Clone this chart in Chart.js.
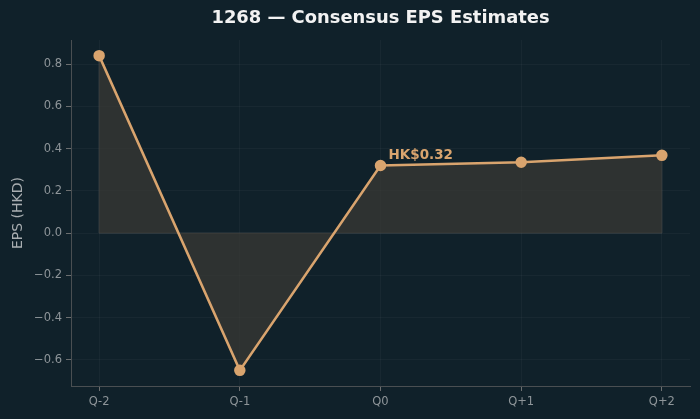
<!DOCTYPE html>
<html>
<head>
<meta charset="utf-8">
<script src="https://cdn.jsdelivr.net/npm/chart.js@4"></script>
<style>
  html, body { margin: 0; padding: 0; background: #10212a; }
  #wrap { width: 700px; height: 419px; }
</style>
</head>
<body>
<div id="wrap"><canvas id="epsChart"></canvas></div>
<script>
const quarters = ['Q-2', 'Q-1', 'Q0', 'Q+1', 'Q+2'];
const epsValues = [0.84, -0.65, 0.32, 0.335, 0.368];
const yTicks = [-0.6, -0.4, -0.2, 0.0, 0.2, 0.4, 0.6, 0.8];
const labelIndex = 2;
const chartTitle = '1268 \u2014 Consensus EPS Estimates';

const lineColor = '#d9a46e';
const fmt = v => v.toFixed(1).replace('-', '\u2212');

const annotate = {
    id: 'annotate',
    afterDatasetsDraw(chart) {
        const { ctx, chartArea, scales: { x, y } } = chart;
        const px = x.getPixelForValue(labelIndex) + 8;
        const py = y.getPixelForValue(epsValues[labelIndex]) - 6;
        ctx.save();
        ctx.fillStyle = lineColor;
        ctx.font = 'bold 13.5px DejaVu Sans';
        ctx.fillText('HK$' + epsValues[labelIndex].toFixed(2), px, py);

        // title centred over the plot area
        ctx.fillStyle = '#f2f2f2';
        ctx.font = 'bold 17.9px DejaVu Sans';
        ctx.textAlign = 'center';
        ctx.textBaseline = 'middle';
        ctx.fillText(chartTitle, (chartArea.left + chartArea.right) / 2, 18);
        ctx.restore();
    },
    beforeDatasetsDraw(chart) {
        // faint edges of the filled area
        const { ctx, scales: { x, y } } = chart;
        const last = epsValues.length - 1;
        ctx.save();
        ctx.strokeStyle = 'rgba(90,90,90,0.6)';
        ctx.lineWidth = 1;
        ctx.beginPath();
        ctx.moveTo(x.getPixelForValue(0), y.getPixelForValue(epsValues[0]));
        ctx.lineTo(x.getPixelForValue(0), y.getPixelForValue(0));
        ctx.lineTo(x.getPixelForValue(last), y.getPixelForValue(0));
        ctx.lineTo(x.getPixelForValue(last), y.getPixelForValue(epsValues[last]));
        ctx.stroke();
        ctx.restore();
    }
};

new Chart(document.getElementById('epsChart').getContext('2d'), {
    type: 'line',
    data: {
        datasets: [{
            data: epsValues.map((v, i) => ({ x: i, y: v })),
            borderColor: lineColor,
            borderWidth: 2.5,
            pointRadius: 4.5,
            pointBackgroundColor: lineColor,
            pointBorderColor: lineColor,
            fill: 'origin',
            backgroundColor: 'rgba(60,58,52,0.7)',
            tension: 0
        }]
    },
    options: {
        responsive: true,
        maintainAspectRatio: false,
        animation: false,
        layout: { padding: { left: 0, right: 10, top: 40, bottom: 0 } },
        plugins: {
            legend: { display: false },
            tooltip: { enabled: false },
            title: { display: false }
        },
        scales: {
            x: {
                type: 'linear',
                min: -0.2,
                max: 4.2,
                afterBuildTicks(axis) { axis.ticks = quarters.map((q, i) => ({ value: i })); },
                afterFit(axis) { axis.height = 33; },
                ticks: {
                    color: '#8e9599',
                    font: { family: 'DejaVu Sans', size: 11.5 },
                    padding: 4,
                    callback: v => quarters[v]
                },
                grid: { color: 'rgba(255,255,255,0.035)', tickColor: '#6b6e6f', tickLength: 5 },
                border: { color: '#4a4f52', width: 1 }
            },
            y: {
                min: -0.724,
                max: 0.914,
                afterBuildTicks(axis) { axis.ticks = yTicks.map(v => ({ value: v })); },
                afterFit(axis) { axis.width = 71; },
                ticks: {
                    color: '#8e9599',
                    font: { family: 'DejaVu Sans', size: 11.5 },
                    padding: 4,
                    callback: v => fmt(v)
                },
                title: {
                    display: true,
                    text: 'EPS (HKD)',
                    color: '#a9aeb1',
                    font: { family: 'DejaVu Sans', size: 14 },
                    padding: { top: 10, bottom: 4 }
                },
                grid: { color: 'rgba(255,255,255,0.035)', tickColor: '#6b6e6f', tickLength: 5 },
                border: { color: '#4a4f52', width: 1 }
            }
        }
    },
    plugins: [annotate]
});
</script>
</body>
</html>
